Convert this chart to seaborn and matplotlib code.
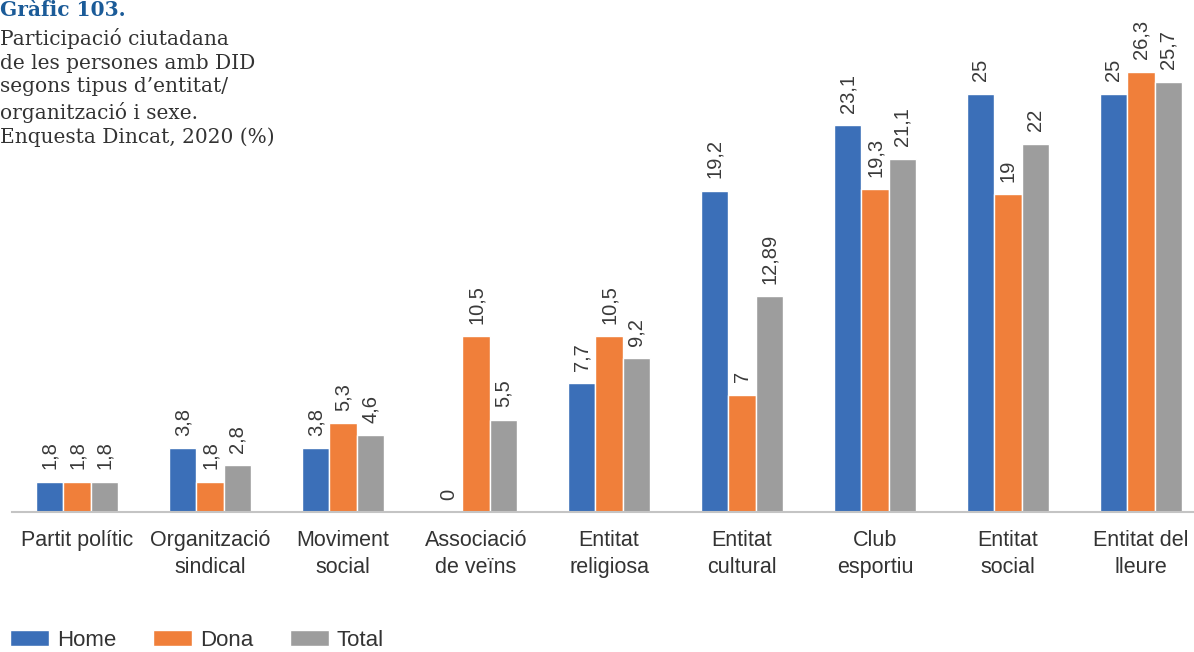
import pandas as pd
import matplotlib.pyplot as plt
import seaborn as sns
from matplotlib.patches import Patch

# Data
categories = ["Partit polític", "Organització\nsindical", "Moviment\nsocial",
              "Associació\nde veïns", "Entitat\nreligiosa", "Entitat\ncultural",
              "Club\nesportiu", "Entitat\nsocial", "Entitat del\nlleure"]
home = [1.8, 3.8, 3.8, 0, 7.7, 19.2, 23.1, 25, 25]
dona = [1.8, 1.8, 5.3, 10.5, 10.5, 7, 19.3, 19, 26.3]
total = [1.8, 2.8, 4.6, 5.5, 9.2, 12.89, 21.1, 22, 25.7]
series_names = ["Home", "Dona", "Total"]
colors = ["#3b6fb8", "#f07f3a", "#9d9d9d"]

df = pd.DataFrame({
    "cat": categories * 3,
    "sexe": [s for s in series_names for _ in categories],
    "val": home + dona + total,
})

sns.set_theme(style="white")
plt.rcParams['font.family'] = ['Liberation Sans', 'DejaVu Sans']

fig = plt.figure(figsize=(11.94, 6.52), dpi=100)
ax = fig.add_axes([12 / 1194, 140 / 652, 1 - 12 / 1194, 512 / 652])

sns.barplot(data=df, x="cat", y="val", hue="sexe", palette=colors,
            width=0.615, gap=0, saturation=1, ax=ax, legend=False)

for cont in ax.containers:
    labels = [f"{b.get_height():g}".replace(".", ",") for b in cont]
    ax.bar_label(cont, labels=labels, rotation=90, padding=9,
                 fontsize=14.5, color="#3a3a3a")

ax.set_xlim(-0.489, 8.398)
ax.set_ylim(0, 30.6)
ax.set_xlabel("")
ax.set_ylabel("")
ax.set_yticks([])
ax.tick_params(axis="x", length=0, pad=13, labelsize=15.5, labelcolor="#333333")
for lbl in ax.get_xticklabels():
    lbl.set_linespacing(1.35)
for side in ["top", "left", "right"]:
    ax.spines[side].set_visible(False)
ax.spines["bottom"].set_color("#c4c4c4")
ax.spines["bottom"].set_linewidth(1.5)

# Title block
fig.text(0.0, 1 - 0 / 652, "Gràfic 103.", ha="left", va="top",
         fontsize=14.5, fontweight="bold", color="#1b5b98",
         family=["DejaVu Serif"])
fig.text(0.0, 1 - 28 / 652,
         "Participació ciutadana\nde les persones amb DID\nsegons tipus d’entitat/\n"
         "organització i sexe.\nEnquesta Dincat, 2020 (%)",
         ha="left", va="top", fontsize=14.5, color="#333333",
         linespacing=1.31, family=["DejaVu Serif"])

# Legend
handles = [Patch(facecolor=c, label=n) for c, n in zip(colors, series_names)]
fig.legend(handles=handles, loc="lower left", bbox_to_anchor=(-0.008, -0.029),
           ncol=3, frameon=False, fontsize=16, handlelength=1.75,
           handleheight=0.75, handletextpad=0.35, columnspacing=1.65,
           labelcolor="#333333")

fig.savefig("out.png", dpi=100)
